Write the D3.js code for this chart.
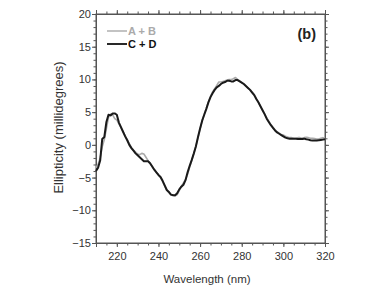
<!DOCTYPE html>
<html>
<head>
<meta charset="utf-8">
<script src="https://cdn.jsdelivr.net/npm/d3@7"></script>
<style>
  html, body { margin: 0; padding: 0; background: #fff; }
  svg { display: block; font-family: "Liberation Sans", Arial, sans-serif; }
</style>
</head>
<body>
<svg id="chart" width="388" height="291"></svg>
<script>
// Wavelength (nm), 210..320 in 1 nm steps
const wavelengths = [
  210,211,212,213,214,215,216,217,218,219,
  220,221,222,223,224,225,226,227,228,229,
  230,231,232,233,234,235,236,237,238,239,
  240,241,242,243,244,245,246,247,248,249,
  250,251,252,253,254,255,256,257,258,259,
  260,261,262,263,264,265,266,267,268,269,
  270,271,272,273,274,275,276,277,278,279,
  280,281,282,283,284,285,286,287,288,289,
  290,291,292,293,294,295,296,297,298,299,
  300,301,302,303,304,305,306,307,308,309,
  310,311,312,313,314,315,316,317,318,319,
  320
];
// Series "A + B" (grey)
const seriesAB = [
  -3.5,-3.0,-2.0,-0.3,0.8,2.5,4.2,4.7,4.6,4.0,
  3.8,3.2,2.6,2.0,1.4,0.8,0.2,-0.4,-0.8,-1.1,
  -1.4,-1.5,-1.3,-1.4,-1.9,-2.4,-2.9,-3.3,-3.8,-4.2,
  -4.6,-5.0,-5.6,-6.3,-6.9,-7.3,-7.6,-7.7,-7.8,-7.6,
  -7.0,-6.3,-5.8,-5.3,-4.5,-3.4,-2.4,-1.3,-0.2,1.1,
  2.4,3.7,4.7,5.6,6.6,7.4,8.1,8.6,9.1,9.6,
  9.6,9.7,9.8,9.9,10.0,10.0,10.1,10.3,10.0,9.8,
  9.5,9.3,9.0,8.7,8.4,8.1,7.7,7.1,6.5,5.9,
  5.3,4.7,4.1,3.6,3.1,2.7,2.3,2.0,1.8,1.6,
  1.5,1.3,1.2,1.1,1.1,1.0,1.0,1.1,1.1,1.0,
  1.1,1.15,1.1,1.0,1.0,0.95,0.9,0.9,1.0,1.1,
  1.0
];
// Series "C + D" (black)
const seriesCD = [
  -4.0,-3.5,-2.4,0.9,1.2,3.5,4.6,4.5,4.8,4.8,
  4.6,3.4,2.7,2.0,1.3,0.7,0.0,-0.5,-0.9,-1.3,
  -1.6,-1.9,-2.2,-2.5,-2.5,-2.5,-2.8,-3.3,-3.8,-4.2,
  -4.6,-4.9,-5.5,-6.2,-6.9,-7.2,-7.6,-7.7,-7.7,-7.4,
  -6.8,-6.4,-6.1,-5.4,-4.2,-3.2,-2.3,-1.3,-0.2,1.2,
  2.5,3.7,4.6,5.5,6.5,7.3,7.9,8.4,8.8,9.0,
  9.3,9.5,9.6,9.8,9.8,9.7,9.7,9.9,9.9,9.7,
  9.5,9.3,9.0,8.7,8.4,8.0,7.6,7.0,6.5,5.9,
  5.3,4.7,4.0,3.5,3.0,2.6,2.2,1.9,1.7,1.5,
  1.3,1.1,1.0,0.95,0.95,0.95,0.95,0.9,0.9,0.9,
  0.95,0.85,0.8,0.7,0.65,0.65,0.65,0.7,0.75,0.8,
  0.85
];
const seriesNames = ["A + B", "C + D"];
const xTicks = [220, 240, 260, 280, 300, 320];
const yTicks = [-15, -10, -5, 0, 5, 10, 15, 20];
const xDomain = [210, 320];
const yDomain = [-15, 20];

const svg = d3.select("#chart");
const m = { left: 96, top: 14, right: 63, bottom: 48 };
const W = 388, H = 291;
const pw = W - m.left - m.right, ph = H - m.top - m.bottom;

const x = d3.scaleLinear().domain(xDomain).range([m.left, m.left + pw]);
const y = d3.scaleLinear().domain(yDomain).range([m.top + ph, m.top]);

const axisColor = "#555";
const textColor = "#333";

const xMinor = d3.range(xDomain[0], xDomain[1] + 0.01, 5);
const yMinor = d3.range(yDomain[0], yDomain[1] + 0.01, 1);

function styleAxis(g) {
  g.select(".domain").attr("stroke", axisColor).attr("stroke-width", 1);
  g.selectAll(".tick line").attr("stroke", axisColor).attr("stroke-width", 1);
  g.selectAll(".tick text").attr("fill", textColor).style("font-size", "11px");
}

// Minor ticks (all four sides)
svg.append("g").attr("transform", `translate(0,${m.top + ph})`)
  .call(d3.axisBottom(x).tickValues(xMinor).tickSize(2.5).tickFormat(""))
  .call(styleAxis);
svg.append("g").attr("transform", `translate(0,${m.top})`)
  .call(d3.axisTop(x).tickValues(xMinor).tickSize(2.5).tickFormat(""))
  .call(styleAxis);
svg.append("g").attr("transform", `translate(${m.left},0)`)
  .call(d3.axisLeft(y).tickValues(yMinor).tickSize(2.5).tickFormat(""))
  .call(styleAxis);
svg.append("g").attr("transform", `translate(${m.left + pw},0)`)
  .call(d3.axisRight(y).tickValues(yMinor).tickSize(2.5).tickFormat(""))
  .call(styleAxis);

// Major ticks
svg.append("g").attr("transform", `translate(0,${m.top + ph})`)
  .call(d3.axisBottom(x).tickValues(xTicks).tickSize(4).tickPadding(5).tickFormat(d3.format("d")))
  .call(styleAxis);
svg.append("g").attr("transform", `translate(0,${m.top})`)
  .call(d3.axisTop(x).tickValues(xTicks).tickSize(4).tickFormat(""))
  .call(styleAxis);
svg.append("g").attr("transform", `translate(${m.left},0)`)
  .call(d3.axisLeft(y).tickValues(yTicks).tickSize(4).tickPadding(1).tickFormat(d3.format("d")))
  .call(styleAxis);
svg.append("g").attr("transform", `translate(${m.left + pw},0)`)
  .call(d3.axisRight(y).tickValues(yTicks).tickSize(4).tickFormat(""))
  .call(styleAxis);

// Frame
svg.append("rect")
  .attr("x", m.left).attr("y", m.top).attr("width", pw).attr("height", ph)
  .attr("fill", "none").attr("stroke", axisColor).attr("stroke-width", 1);

// Lines
const line = d3.line()
  .x((d, i) => x(wavelengths[i]))
  .y(d => y(d));

svg.append("path").datum(seriesAB)
  .attr("d", line).attr("fill", "none")
  .attr("stroke", "#aaa").attr("stroke-width", 1.6)
  .attr("stroke-linejoin", "round");
svg.append("path").datum(seriesCD)
  .attr("d", line).attr("fill", "none")
  .attr("stroke", "#1a1a1a").attr("stroke-width", 2)
  .attr("stroke-linejoin", "round");

// Legend
const legend = [
  { name: seriesNames[0], color: "#aaa", ty: 35 },
  { name: seriesNames[1], color: "#111", ty: 48 }
];
legend.forEach(l => {
  svg.append("line")
    .attr("x1", 107).attr("x2", 127).attr("y1", l.ty - 4).attr("y2", l.ty - 4)
    .attr("stroke", l.color).attr("stroke-width", l.color === "#aaa" ? 1.4 : 1.8);
  svg.append("text")
    .attr("x", 128).attr("y", l.ty)
    .attr("fill", l.color).style("font-size", "11px").style("font-weight", "bold")
    .text(l.name);
});

// Panel label
svg.append("text")
  .attr("x", 316).attr("y", 39).attr("text-anchor", "end")
  .attr("fill", "#222").style("font-size", "14.5px").style("font-weight", "bold")
  .text("(b)");

// Axis titles
svg.append("text")
  .attr("x", 207).attr("y", 283).attr("text-anchor", "middle")
  .attr("fill", textColor).style("font-size", "11.5px")
  .text("Wavelength (nm)");
svg.append("text")
  .attr("transform", `translate(63,${m.top + ph / 2 - 1}) rotate(-90)`)
  .attr("text-anchor", "middle")
  .attr("fill", textColor).style("font-size", "13px")
  .text("Ellipticity (millidegrees)");
</script>
</body>
</html>
